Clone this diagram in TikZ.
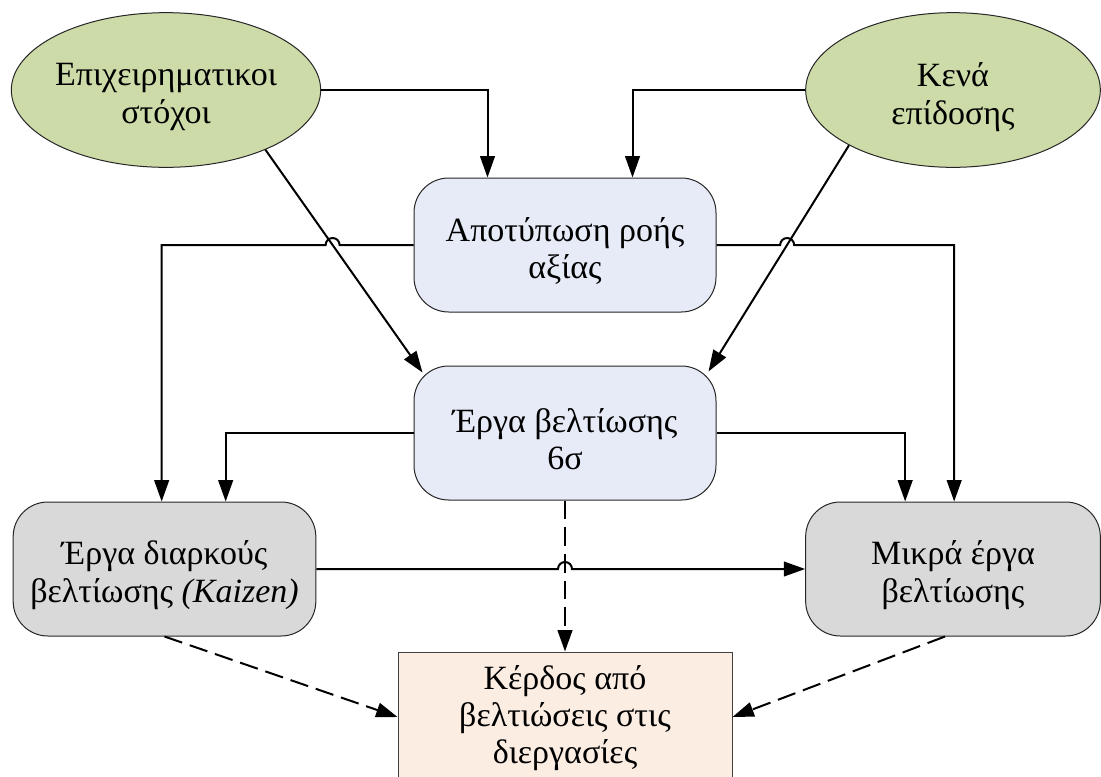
\documentclass[tikz,border=0pt]{standalone}
\usepackage{fontspec}
\setmainfont{Liberation Serif}
\newfontfamily\diagfont{Liberation Serif}
\usetikzlibrary{arrows.meta,shapes.geometric,calc}

\definecolor{goalgreen}{RGB}{205,219,169}
\definecolor{mapblue}{RGB}{231,235,247}
\definecolor{workgray}{RGB}{217,217,217}
\definecolor{gainpeach}{RGB}{252,237,227}

\begin{document}
\begin{tikzpicture}[x=0.75pt,y=-0.75pt,
  txt/.style={font=\diagfont\fontsize{25.5}{28}\selectfont, align=center, text=black, inner sep=0pt},
  goal/.style={ellipse, draw=black!85, line width=0.75pt, fill=goalgreen, inner sep=0pt},
  stage/.style={rectangle, rounded corners=26pt, draw=black!85, line width=0.75pt,
                minimum width=226.5pt, minimum height=100.5pt, inner sep=0pt},
  conn/.style={line width=1.5pt, -{Triangle[length=16pt,width=11pt]}},
  dconn/.style={line width=1.5pt, dash pattern=on 14pt off 6pt,
                -{Triangle[length=16pt,width=11pt]}},
  hop/.style={radius=5.25pt}
]
\useasboundingbox (0,0) rectangle (1101,776);

% sources
\node[goal, minimum width=232pt, minimum height=116pt] (e1) at (166,90) {};
\node[goal, minimum width=221pt, minimum height=116pt] (e2) at (953,90) {};

% middle column
\node[stage, fill=mapblue] (b1) at (565,245) {};
\node[stage, fill=mapblue] (b2) at (565,433) {};

% improvement projects
\node[stage, fill=workgray, minimum width=227pt] (b3) at (164.5,569) {};
\node[stage, fill=workgray, minimum width=221pt] (b4) at (953,569) {};

% result
\node[rectangle, draw=black!75, line width=0.75pt, fill=gainpeach,
      minimum width=250.5pt, minimum height=97.5pt, inner sep=0pt] (b5) at (565,717) {};

% labels
\node[txt] (t1) at ($(e1.center)+(0,7)$) {Επιχειρηματικοι\\στόχοι};
\node[txt] (t2) at ($(e2.center)+(0,7)$) {Κενά\\επίδοσης};
\node[txt] (t3) at ($(b1.center)+(0,6)$) {Αποτύπωση ροής\\αξίας};
\node[txt] (t4) at ($(b2.center)+(0,6)$) {Έργα βελτίωσης\\6σ};
\node[txt] (t5) at ($(b3.center)+(0,6)$) {Έργα διαρκούς\\βελτίωσης \textit{(Kaizen)}};
\node[txt] (t6) at ($(b4.center)+(0,6)$) {Μικρά έργα\\βελτίωσης};
\node[txt] (t7) at ($(b5.center)+(0,1)$) {Κέρδος από\\βελτιώσεις στις\\διεργασίες};

% helper points
\coordinate (d1s) at (e1.-31);
\coordinate (d1e) at ($(b2.north west)+(9,7)$);
\coordinate (d2s) at (e2.-152);
\coordinate (d2e) at ($(b2.north east)+(-8,6)$);
\coordinate (x5) at ($(b3.north west)+(149,0)$);
\coordinate (x6) at ($(b4.north west)+(149,0)$);
\coordinate (x7) at ($(b3.north west)+(213,0)$);
\coordinate (x8) at ($(b4.north west)+(100,0)$);
\coordinate (c5) at (b1.west -| x5);
\coordinate (c6) at (b1.east -| x6);
\coordinate (h1) at (intersection of d1s--d1e and b1.west--c5);
\coordinate (h2) at (intersection of d2s--d2e and b1.east--c6);
\coordinate (h3) at (b2.south |- b3.east);

% goals into value stream mapping
\draw[conn] (e1.east) -| ($(b1.north west)+(74,0)$);
\draw[conn] (e2.west) -| ($(b1.north east)+(-84,0)$);

% goals into 6 sigma
\draw[conn] (d1s) -- (d1e);
\draw[conn] (d2s) -- (d2e);

% value stream mapping outputs (hopping over the diagonals)
\draw[conn] (b1.west) -- ($(h1)+(7,0)$) arc[start angle=0,end angle=180,hop]
  -- (c5) -- (x5);
\draw[conn] (b1.east) -- ($(h2)+(-7,0)$) arc[start angle=180,end angle=0,hop]
  -- (c6) -- (x6);

% 6 sigma outputs
\draw[conn] (b2.west) -| (x7);
\draw[conn] (b2.east) -| (x8);

% kaizen to small projects
\draw[conn] (b3.east) -- ($(h3)+(-7,0)$) arc[start angle=180,end angle=0,hop]
  -- (b4.west);

% gains
\draw[dconn] (b2.south) -- (b5.north);
\draw[dconn] (b3.south) -- (b5.west);
\draw[dconn] ($(b4.south)+(-8,0)$) -- (b5.east);
\end{tikzpicture}
\end{document}
